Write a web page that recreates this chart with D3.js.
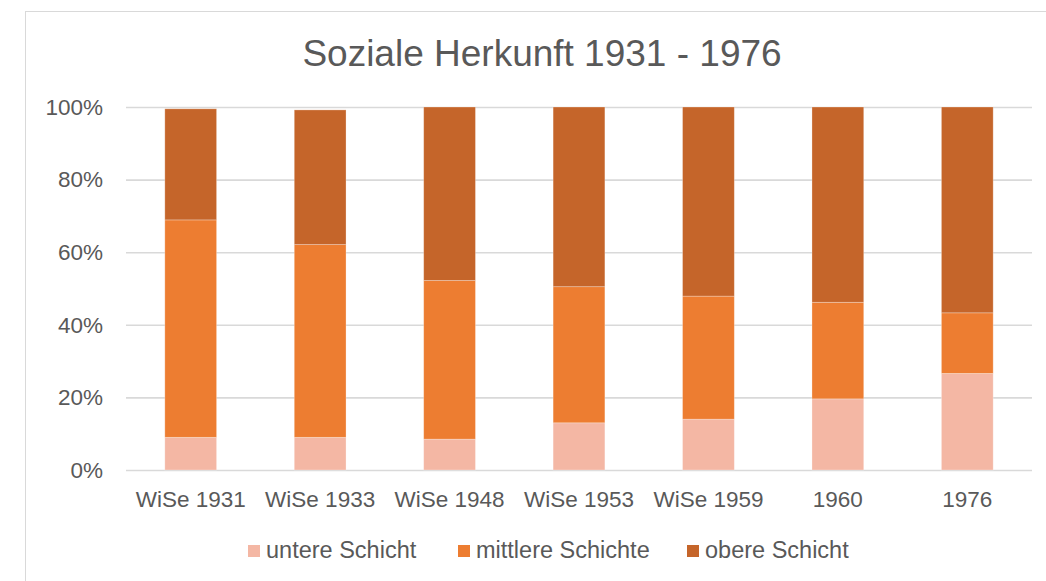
<!DOCTYPE html>
<html>
<head>
<meta charset="utf-8">
<script src="https://cdn.jsdelivr.net/npm/d3@7"></script>
<style>
  body { margin: 0; background: #fff; }
  text { font-family: "Liberation Sans", Arial, sans-serif; fill: #595959; }
</style>
</head>
<body>
<svg id="grafico"></svg>
<script>
// Dados (em %)
var categorias = ['WiSe 1931', 'WiSe 1933', 'WiSe 1948', 'WiSe 1953', 'WiSe 1959', '1960', '1976'];
var untereSchicht = [9.0, 9.0, 8.5, 13.0, 14.0, 19.6, 26.6];
var mittlereSchichte = [59.9, 53.1, 43.7, 37.5, 33.9, 26.6, 16.7];
var obereSchicht = [30.6, 37.1, 47.8, 49.5, 52.1, 53.8, 56.7];
var nomesSeries = ['untere Schicht', 'mittlere Schichte', 'obere Schicht'];
var ticksY = [0, 20, 40, 60, 80, 100];

var largura = 1046, altura = 581;
var cores = d3.scaleOrdinal()
    .domain(nomesSeries)
    .range(['#F4B7A4', '#ED7D31', '#C5652A']);

var svg = d3.select('#grafico')
    .attr('width', largura)
    .attr('height', altura);

//Moldura
svg.append('rect')
    .attr('x', 25.5).attr('y', 11.5)
    .attr('width', largura).attr('height', altura)
    .attr('fill', 'none')
    .attr('stroke', '#d9d9d9');

//Titulo
svg.append('text')
    .attr('x', 542).attr('y', 66)
    .attr('text-anchor', 'middle')
    .style('font-size', '37px')
    .text('Soziale Herkunft 1931 - 1976');

//Escalas
var x = d3.scaleBand()
    .domain(categorias)
    .range([126, 1032])
    .paddingInner(0.6)
    .paddingOuter(0.3);
var y = d3.scaleLinear()
    .domain([0, 100])
    .range([470, 107]);

//Grade
var grade = d3.axisRight(y)
    .tickValues(ticksY)
    .tickSize(1032 - 126)
    .tickFormat('');
svg.append('g')
    .attr('transform', 'translate(126,0)')
    .call(grade)
    .call(g => g.select('.domain').remove())
    .call(g => g.selectAll('line').attr('stroke', '#d9d9d9').attr('stroke-width', 1.6));

//Eixo Y
var eixoY = d3.axisLeft(y)
    .tickValues(ticksY)
    .tickSize(0)
    .tickPadding(23)
    .tickFormat(d => d + '%');
svg.append('g')
    .attr('transform', 'translate(126,0)')
    .call(eixoY)
    .call(g => g.select('.domain').remove())
    .call(g => g.selectAll('text').style('font-size', '22.5px').attr('fill', '#595959'));

//Pilhas
var dados = categorias.map((c, i) => ({
    chave: c,
    'untere Schicht': untereSchicht[i],
    'mittlere Schichte': mittlereSchichte[i],
    'obere Schicht': obereSchicht[i]
}));
var pilhas = d3.stack().keys(nomesSeries)(dados);

svg.append('g').selectAll('g')
    .data(pilhas)
    .join('g')
    .attr('fill', d => cores(d.key))
    .selectAll('rect')
    .data(d => d)
    .join('rect')
    .attr('x', d => x(d.data.chave))
    .attr('y', d => y(d[1]))
    .attr('width', x.bandwidth())
    .attr('height', d => y(d[0]) - y(d[1]))
    .attr('stroke', 'rgba(255,255,255,0.35)')
    .attr('stroke-width', 0.8);

//Eixo X
var eixoX = d3.axisBottom(x)
    .tickSize(0)
    .tickPadding(21);
svg.append('g')
    .attr('transform', 'translate(0,470)')
    .call(eixoX)
    .call(g => g.select('.domain').remove())
    .call(g => g.selectAll('text').style('font-size', '22.5px').attr('fill', '#595959'));

//Legenda
var posLegenda = [248, 458, 687];
var legenda = svg.append('g').selectAll('g')
    .data(nomesSeries)
    .join('g')
    .attr('transform', (d, i) => 'translate(' + posLegenda[i] + ',545)');
legenda.append('rect')
    .attr('width', 12).attr('height', 12)
    .attr('fill', d => cores(d));
legenda.append('text')
    .attr('x', 18).attr('y', 13)
    .style('font-size', '23.5px')
    .text(d => d);
</script>
</body>
</html>
